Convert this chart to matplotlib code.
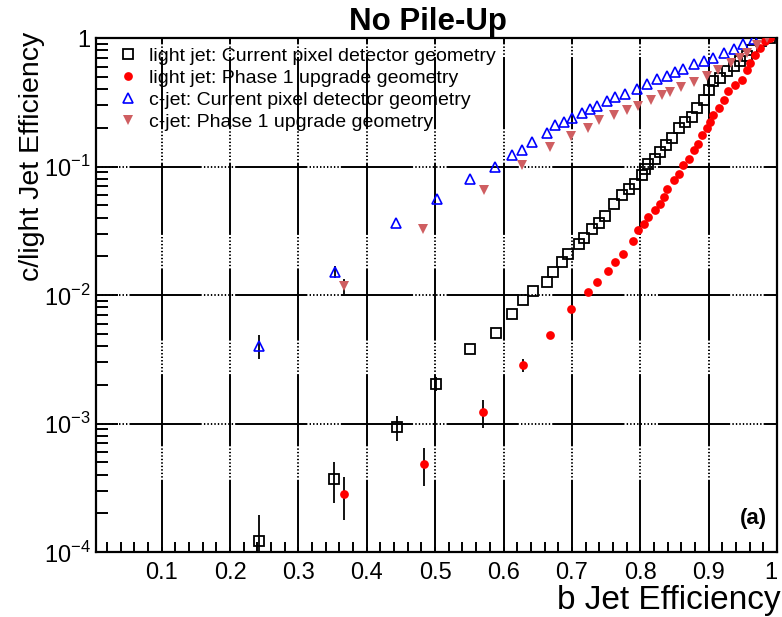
import matplotlib
matplotlib.use("Agg")
import matplotlib.pyplot as plt
import numpy as np
from matplotlib.ticker import FixedLocator, NullFormatter, LogLocator

plt.rcParams['font.family'] = ['Liberation Sans', 'DejaVu Sans']
plt.rcParams['mathtext.fontset'] = 'custom'
plt.rcParams['mathtext.rm'] = 'Liberation Sans'
plt.rcParams['lines.scale_dashes'] = False

# light jet rejection, current pixel detector geometry
light_cur_x = [0.2425, 0.352, 0.444, 0.501, 0.551, 0.589, 0.613, 0.628, 0.643, 0.663,
               0.673, 0.685, 0.695, 0.710, 0.718, 0.729, 0.739, 0.749, 0.761, 0.773,
               0.783, 0.793, 0.802, 0.807, 0.812, 0.822, 0.829, 0.837, 0.846, 0.856,
               0.866, 0.876, 0.883, 0.893, 0.900, 0.907, 0.917, 0.927, 0.937, 0.946,
               0.956, 0.963, 0.976, 0.990]
light_cur_y = [1.22e-4, 3.7e-4, 9.4e-4, 2.04e-3, 3.78e-3, 5.05e-3, 7.1e-3, 9.2e-3, 1.08e-2, 1.27e-2,
               1.5e-2, 1.8e-2, 2.09e-2, 2.5e-2, 2.8e-2, 3.28e-2, 3.63e-2, 4.12e-2, 0.0514, 0.0597,
               0.0673, 0.0736, 0.0855, 0.0964, 0.105, 0.115, 0.130, 0.147, 0.166, 0.198,
               0.223, 0.244, 0.284, 0.330, 0.394, 0.459, 0.487, 0.550, 0.601, 0.658,
               0.719, 0.811, 0.94, 1.0]
light_cur_err = [0.73e-4, 1.3e-4, 2.1e-4, 2.5e-4]

# light jet, phase 1 upgrade geometry
light_p1_x = [0.367, 0.483, 0.570, 0.628, 0.668, 0.699, 0.723, 0.737, 0.753, 0.763,
              0.775, 0.789, 0.797, 0.805, 0.812, 0.822, 0.829, 0.834, 0.839, 0.849,
              0.856, 0.863, 0.871, 0.878, 0.885, 0.890, 0.898, 0.902, 0.907, 0.915,
              0.922, 0.929, 0.939, 0.949, 0.956, 0.961, 0.968, 0.975, 0.983, 0.990]
light_p1_y = [2.82e-4, 4.84e-4, 1.22e-3, 2.85e-3, 4.87e-3, 7.78e-3, 1.05e-2, 1.26e-2, 1.55e-2, 1.82e-2,
              2.09e-2, 2.65e-2, 3.18e-2, 3.59e-2, 4.05e-2, 4.56e-2, 5.14e-2, 5.8e-2, 6.73e-2, 7.82e-2,
              8.81e-2, 0.102, 0.115, 0.134, 0.151, 0.176, 0.198, 0.223, 0.252, 0.284,
              0.330, 0.384, 0.430, 0.472, 0.565, 0.638, 0.741, 0.836, 0.942, 1.0]
light_p1_err = [1.05e-4, 1.6e-4, 3.0e-4, 3.5e-4]

# c-jet, current geometry
c_cur_x = [0.243, 0.353, 0.443, 0.503, 0.551, 0.588, 0.612, 0.627, 0.642, 0.663,
           0.676, 0.688, 0.700, 0.715, 0.727, 0.737, 0.751, 0.763, 0.778, 0.795,
           0.810, 0.824, 0.839, 0.851, 0.863, 0.878, 0.893, 0.907, 0.922, 0.937,
           0.951, 0.966]
c_cur_y = [4.02e-3, 1.52e-2, 3.63e-2, 5.62e-2, 8.05e-2, 0.100, 0.122, 0.134, 0.156, 0.181,
           0.209, 0.223, 0.237, 0.259, 0.279, 0.297, 0.322, 0.346, 0.365, 0.403,
           0.441, 0.479, 0.509, 0.542, 0.578, 0.627, 0.667, 0.705, 0.771, 0.828,
           0.906, 0.99]
c_cur_err = [8.5e-4, 1.6e-3]

# c-jet, phase 1 upgrade geometry
c_p1_x = [0.367, 0.482, 0.572, 0.627, 0.668, 0.698, 0.723, 0.740, 0.761, 0.780,
          0.797, 0.815, 0.832, 0.844, 0.860, 0.878, 0.898, 0.914, 0.932, 0.946,
          0.956, 0.971, 0.985]
c_p1_y = [1.17e-2, 3.24e-2, 6.61e-2, 0.102, 0.142, 0.173, 0.198, 0.229, 0.252, 0.275,
          0.297, 0.328, 0.359, 0.379, 0.414, 0.453, 0.509, 0.568, 0.638, 0.698,
          0.764, 0.887, 1.0]
c_p1_err = [1.6e-3]

labels = ['light jet: Current pixel detector geometry',
          'light jet: Phase 1 upgrade geometry',
          'c-jet: Current pixel detector geometry',
          'c-jet: Phase 1 upgrade geometry']


def pad(err, n):
    return np.concatenate([err, np.zeros(n - len(err))])


fig = plt.figure(figsize=(7.82, 6.17), dpi=100)
ax = fig.add_axes([0.1228, 0.1053, 0.8708, 0.8331])
ax.set_yscale('log')
ax.set_xlim(0.004, 1.0)
ax.set_ylim(1e-4, 1.0)

ebar = dict(ls='none', ecolor='k', elinewidth=1.3, capsize=0, zorder=3)
h1 = ax.errorbar(light_cur_x, light_cur_y, yerr=pad(light_cur_err, len(light_cur_x)),
                 fmt='s', ms=6.5, mfc='none', mec='k', mew=1.3, **ebar)
h2 = ax.errorbar(light_p1_x, light_p1_y, yerr=pad(light_p1_err, len(light_p1_x)),
                 fmt='o', ms=6.3, mfc='#ff0000', mec='#ff0000', mew=0, **ebar)
h3 = ax.errorbar(c_cur_x, c_cur_y, yerr=pad(c_cur_err, len(c_cur_x)),
                 fmt='^', ms=7, mfc='none', mec='#0000ff', mew=1.2, **ebar)
h4 = ax.errorbar(c_p1_x, c_p1_y, yerr=pad(c_p1_err, len(c_p1_x)),
                 fmt='v', ms=6.5, mfc='#cf5e61', mec='#cf5e61', mew=0, **ebar)

# ROOT-like grid: long solid stretch followed by a run of dots
grid_dash = [52, 1.6] + [1.0, 1.5] * 9
ax.xaxis.grid(True, which='major', color='k', lw=1.4, linestyle=(0, grid_dash))
ax.yaxis.grid(True, which='major', color='k', lw=1.4, linestyle=(52, grid_dash))
ax.set_axisbelow(True)

xt = [0.1, 0.2, 0.3, 0.4, 0.5, 0.6, 0.7, 0.8, 0.9, 1.0]
ax.xaxis.set_major_locator(FixedLocator(xt))
ax.set_xticklabels(['0.1', '0.2', '0.3', '0.4', '0.5', '0.6', '0.7', '0.8', '0.9', '1'])
ax.get_xticklabels()[-1].set_horizontalalignment('right')
xminor = [v for v in np.arange(0.02, 1.0, 0.02) if abs(v * 10 - round(v * 10)) > 1e-6]
ax.xaxis.set_minor_locator(FixedLocator(xminor))

yt = [1e-4, 1e-3, 1e-2, 1e-1, 1.0]
ax.yaxis.set_major_locator(FixedLocator(yt))
ax.set_yticklabels([r'$10^{-4}$', r'$10^{-3}$', r'$10^{-2}$', r'$10^{-1}$', '1'])
ax.yaxis.set_minor_locator(LogLocator(base=10, subs=np.arange(2, 10)))
ax.yaxis.set_minor_formatter(NullFormatter())

ax.tick_params(axis='both', labelsize=17)
ax.tick_params(axis='y', which='major', direction='in', length=16, width=1.4, right=False, pad=4)
ax.tick_params(axis='y', which='minor', direction='in', length=8.5, width=1.4, right=False)
ax.tick_params(axis='x', which='major', direction='in', length=3.6, width=1.4, top=True, pad=7)
ax.tick_params(axis='x', which='minor', direction='in', length=7, width=1.4, top=False)
for s in ax.spines.values():
    s.set_linewidth(1.6)

ax.legend([h1.lines[0], h2.lines[0], h3.lines[0], h4.lines[0]], labels,
          loc='upper left', bbox_to_anchor=(0.035, 0.982), frameon=False, fontsize=14,
          handlelength=0.8, handletextpad=0.7, labelspacing=0.22,
          borderaxespad=0, borderpad=0)

ax.text(0.985, 0.066, '(a)', transform=ax.transAxes, ha='right', va='center',
        fontsize=16, fontweight='bold')

fig.text(428 / 782, 1 - 22 / 617, 'No Pile-Up', ha='center', va='center',
         fontsize=22.5, fontweight='bold')
fig.text(781 / 782, 1 - 600 / 617, 'b Jet Efficiency', ha='right', va='center', fontsize=24)
fig.text(32 / 782, 1 - 32 / 617, 'c/light Jet Efficiency', ha='center', va='top',
         rotation=90, fontsize=20.5)

fig.savefig('out.png', dpi=100)
